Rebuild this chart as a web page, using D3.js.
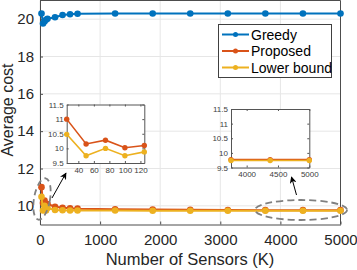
<!DOCTYPE html>
<html><head><meta charset="utf-8">
<script src="https://cdn.jsdelivr.net/npm/d3@7"></script>
<style>body{margin:0;background:#fff}svg{display:block}</style>
</head><body>
<script>
const K = [25, 50, 75, 100, 125, 250, 375, 500, 625, 1250, 1875, 2500, 3125, 3750, 4375, 5000];
const greedy = [20.3, 19.77, 19.88, 19.97, 20.02, 20.1, 20.22, 20.26, 20.29, 20.3, 20.3, 20.3, 20.3, 20.3, 20.3, 20.3];
const proposed = [11.0, 10.15, 10.28, 10.02, 10.1, 9.95, 9.9, 9.87, 9.85, 9.82, 9.8, 9.79, 9.78, 9.77, 9.77, 9.77];
const lowerBound = [10.48, 9.75, 10.0, 9.75, 9.88, 9.78, 9.76, 9.75, 9.75, 9.75, 9.74, 9.74, 9.74, 9.74, 9.74, 9.74];
const seriesNames = ["Greedy", "Proposed", "Lower bound"];
const colors = ["#0072BD", "#D95319", "#EDB120"];
const xTicks = [0, 1000, 2000, 3000, 4000, 5000];
const yTicks = [10, 12, 14, 16, 18, 20];
const inset1XTicks = [40, 60, 80, 100, 120];
const insetYTicks = [9.5, 10, 10.5, 11, 11.5];
const inset2XTicks = [4000, 4500, 5000];

const W = 357, H = 270;
const svg = d3.select("body").append("svg").attr("width", W).attr("height", H)
  .style("font-family", "Liberation Sans, Arial, sans-serif");

const L = 40, R = 340.5, T = 0.5, B = 224.5;
const x = d3.scaleLinear().domain([0, 5000]).range([L, R]);
const y = d3.scaleLinear().domain([9, 21]).range([B, T]);

// grid
svg.append("g").selectAll("line").data(xTicks).join("line")
  .attr("x1", d => x(d)).attr("x2", d => x(d)).attr("y1", T).attr("y2", B)
  .attr("stroke", "#e6e6e6").attr("stroke-width", 1);
svg.append("g").selectAll("line").data(yTicks).join("line")
  .attr("y1", d => y(d)).attr("y2", d => y(d)).attr("x1", L).attr("x2", R)
  .attr("stroke", "#e6e6e6").attr("stroke-width", 1);

// axes
const xAxis = d3.axisBottom(x).tickValues(xTicks).tickFormat(d3.format("d")).tickSizeInner(-3).tickSizeOuter(0).tickPadding(10);
const gx = svg.append("g").attr("transform", `translate(0,${B})`).call(xAxis);
const yAxis = d3.axisLeft(y).tickValues(yTicks).tickSizeInner(-3).tickSizeOuter(0).tickPadding(6);
const gy = svg.append("g").attr("transform", `translate(${L},0)`).call(yAxis);
[gx, gy].forEach(g => {
  g.select(".domain").attr("stroke", "#4d4d4d");
  g.selectAll(".tick line").attr("stroke", "#4d4d4d");
  g.selectAll("text").attr("fill", "#262626").style("font-size", "15px");
});
// right & top spines
svg.append("line").attr("x1", R).attr("x2", R).attr("y1", T).attr("y2", B).attr("stroke", "#4d4d4d");
svg.append("line").attr("x1", L).attr("x2", R).attr("y1", T).attr("y2", T).attr("stroke", "#4d4d4d");

svg.append("text").attr("x", 190).attr("y", 265).attr("text-anchor", "middle")
  .attr("fill", "#262626").style("font-size", "16.5px").text("Number of Sensors (K)");
svg.append("text").attr("transform", "translate(13,110) rotate(-90)").attr("text-anchor", "middle")
  .attr("fill", "#262626").style("font-size", "16px").text("Average cost");

const allSeries = [greedy, proposed, lowerBound];
function drawSeries(g, xs, ys, idxs, lw, r) {
  idxs.forEach(si => {
    const vals = allSeries[si];
    const pts = K.map((k, i) => [k, vals[i]]).filter(p => p[0] >= xs.domain()[0] - 1e-9 && p[0] <= xs.domain()[1] + 1e-9);
    g.append("path").datum(pts)
      .attr("d", d3.line().x(d => xs(d[0])).y(d => ys(d[1])))
      .attr("fill", "none").attr("stroke", colors[si]).attr("stroke-width", lw);
    g.append("g").selectAll("circle").data(pts).join("circle")
      .attr("cx", d => xs(d[0])).attr("cy", d => ys(d[1])).attr("r", r).attr("fill", colors[si]);
  });
}
drawSeries(svg, x, y, [0, 1, 2], 2, 3.3);

// ellipses & arrows
svg.append("ellipse").attr("cx", 42).attr("cy", 199).attr("rx", 8).attr("ry", 21)
  .attr("transform", "rotate(10,42,199)")
  .attr("fill", "none").attr("stroke", "#808080").attr("stroke-width", 1.8).attr("stroke-dasharray", "6,4");
svg.append("ellipse").attr("cx", 301).attr("cy", 210).attr("rx", 46).attr("ry", 10)
  .attr("fill", "none").attr("stroke", "#808080").attr("stroke-width", 1.8).attr("stroke-dasharray", "7,4");

const defs = svg.append("defs");
defs.append("marker").attr("id", "ah").attr("viewBox", "0 0 10 10").attr("refX", 9).attr("refY", 5)
  .attr("markerWidth", 7).attr("markerHeight", 7).attr("orient", "auto")
  .append("path").attr("d", "M0,0 L10,5 L0,10 L3,5 z").attr("fill", "#000");
svg.append("line").attr("x1", 52).attr("y1", 198).attr("x2", 66).attr("y2", 173)
  .attr("stroke", "#000").attr("stroke-width", 1).attr("marker-end", "url(#ah)");
svg.append("line").attr("x1", 296.5).attr("y1", 195).attr("x2", 291.5).attr("y2", 177)
  .attr("stroke", "#000").attr("stroke-width", 1).attr("marker-end", "url(#ah)");

// insets
function inset(x0, x1, y0, y1, dom, xt, idxs) {
  const g = svg.append("g");
  const xs = d3.scaleLinear().domain(dom).range([x0, x1]);
  const ys = d3.scaleLinear().domain([9.5, 11.5]).range([y1, y0]);
  g.append("rect").attr("x", x0).attr("y", y0).attr("width", x1 - x0).attr("height", y1 - y0).attr("fill", "#fff");
  const ax = g.append("g").attr("transform", `translate(0,${y1})`)
    .call(d3.axisBottom(xs).tickValues(xt).tickFormat(d3.format("d")).tickSizeInner(-2).tickSizeOuter(0).tickPadding(4));
  const ay = g.append("g").attr("transform", `translate(${x0},0)`)
    .call(d3.axisLeft(ys).tickValues(insetYTicks).tickFormat(d3.format("")).tickSizeInner(-2).tickSizeOuter(0).tickPadding(3));
  const ax2 = g.append("g").attr("transform", `translate(0,${y0})`)
    .call(d3.axisTop(xs).tickValues(xt).tickSizeInner(-2).tickSizeOuter(0).tickFormat(""));
  const ay2 = g.append("g").attr("transform", `translate(${x1},0)`)
    .call(d3.axisRight(ys).tickValues(insetYTicks).tickSizeInner(-2).tickSizeOuter(0).tickFormat(""));
  [ax, ay, ax2, ay2].forEach(a => {
    a.select(".domain").attr("stroke", "#555");
    a.selectAll(".tick line").attr("stroke", "#555");
    a.selectAll("text").attr("fill", "#404040").style("font-size", "8px");
  });
  drawSeries(g, xs, ys, idxs, 1.6, 2.7);
}
inset(66.7, 144.3, 104.5, 163, [25, 125], inset1XTicks, [1, 2]);
inset(231, 309.3, 109, 167.5, [3750, 5000], inset2XTicks, [1, 2]);

// legend
const lg = svg.append("g");
lg.append("rect").attr("x", 218.5).attr("y", 24.5).attr("width", 113).attr("height", 53)
  .attr("fill", "#fff").attr("stroke", "#404040").attr("stroke-width", 1);
seriesNames.forEach((n, i) => {
  const yy = 34.5 + i * 16.5;
  lg.append("line").attr("x1", 222).attr("x2", 249).attr("y1", yy).attr("y2", yy)
    .attr("stroke", colors[i]).attr("stroke-width", 2);
  lg.append("circle").attr("cx", 235.5).attr("cy", yy).attr("r", 2.5).attr("fill", colors[i]);
  lg.append("text").attr("x", 251).attr("y", yy + 5).attr("fill", "#000").style("font-size", "14px").text(n);
});
</script>
</body></html>
